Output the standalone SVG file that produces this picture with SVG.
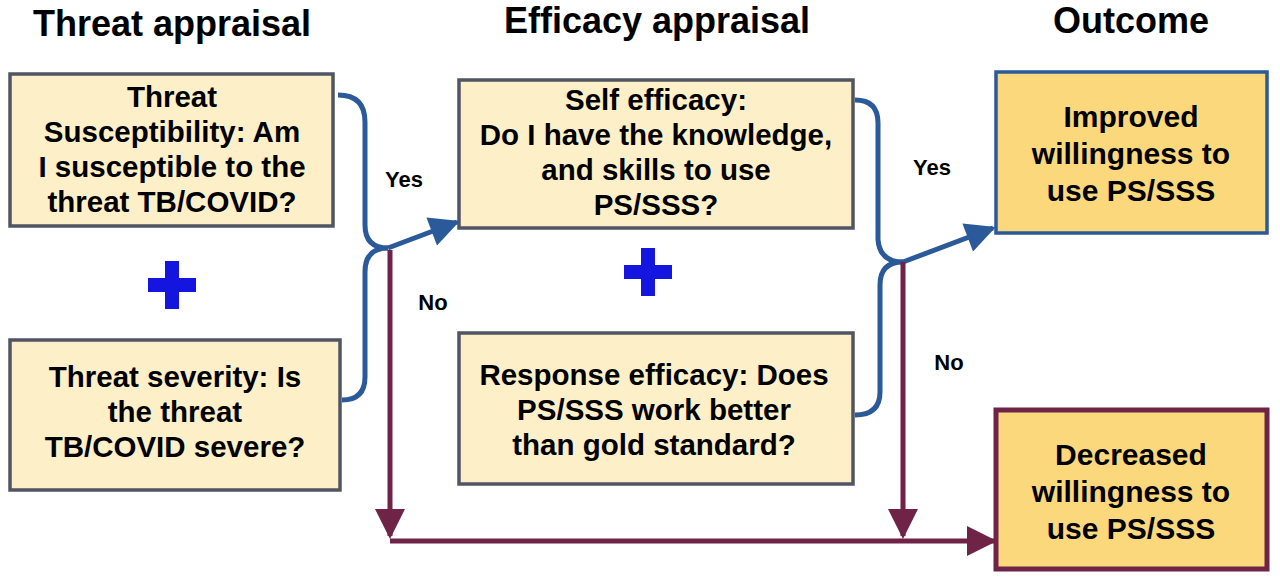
<svg xmlns="http://www.w3.org/2000/svg" width="1280" height="579" viewBox="0 0 1280 579">
<style>
text{font-family:"Liberation Sans",Arial,sans-serif;font-weight:bold;fill:#000;text-anchor:middle}
.h{font-size:36px}.t{font-size:29.5px}.o{font-size:30px}.l{font-size:22px}
.b{fill:#fdf0c8;stroke:#4f5563;stroke-width:3.5}
.bl{fill:none;stroke:#2b5a9a;stroke-width:5}
.mr{fill:none;stroke:#6e2347;stroke-width:5}
</style>
<defs>
<marker id="ab" viewBox="0 0 10 10" refX="9" refY="5" markerWidth="6.5" markerHeight="6" orient="auto" markerUnits="strokeWidth"><path d="M0,0L10,5L0,10z" fill="#2b5a9a"/></marker>
<marker id="am" viewBox="0 0 10 10" refX="9" refY="5" markerWidth="6.5" markerHeight="6" orient="auto" markerUnits="strokeWidth"><path d="M0,0L10,5L0,10z" fill="#6e2347"/></marker>
</defs>
<rect width="1280" height="579" fill="#fff"/>
<text class="h" x="172" y="36">Threat appraisal</text>
<text class="h" x="657" y="33">Efficacy appraisal</text>
<text class="h" x="1131" y="33">Outcome</text>
<g id="connectors">
<path class="bl" d="M338,95 Q365,95 365,122 L365,225 Q365,248 388,248"/>
<path class="bl" d="M342,400 Q365,400 365,377 L365,272 Q365,248 388,248"/>
<path class="bl" d="M388,248 L457,222" marker-end="url(#ab)"/>
<path class="bl" d="M855,100 Q878,100 878,123 L878,240 Q880,262 903,262"/>
<path class="bl" d="M855,415 Q880,415 880,392 L880,285 Q880,262 903,262"/>
<path class="bl" d="M903,262 L993,228" marker-end="url(#ab)"/>
<path class="mr" d="M390,250 L390,536" marker-end="url(#am)"/>
<path class="mr" d="M390,541 L994,541" marker-end="url(#am)"/>
<path class="mr" d="M903,262 L903,536" marker-end="url(#am)"/>
</g>
<text class="l" x="404" y="187">Yes</text>
<text class="l" x="433" y="310">No</text>
<text class="l" x="932" y="175">Yes</text>
<text class="l" x="949" y="370">No</text>
<g id="n1"><rect class="b" x="10" y="74" width="323" height="152"/>
<text class="t" x="172" y="107">Threat</text><text class="t" x="172" y="142">Susceptibility: Am</text><text class="t" x="172" y="177">I susceptible to the</text><text class="t" x="172" y="212">threat TB/COVID?</text></g>
<g id="plus1" fill="#1515e0"><rect x="148" y="278" width="48" height="14"/><rect x="165" y="261" width="14" height="48"/></g>
<g id="n2"><rect class="b" x="10" y="340" width="330" height="150"/>
<text class="t" x="175" y="387">Threat severity: Is</text><text class="t" x="175" y="422">the threat</text><text class="t" x="175" y="457">TB/COVID severe?</text></g>
<g id="n3"><rect class="b" x="459" y="80" width="394" height="148"/>
<text class="t" x="656" y="110">Self efficacy:</text><text class="t" x="656" y="145">Do I have the knowledge,</text><text class="t" x="656" y="180">and skills to use</text><text class="t" x="656" y="215">PS/SSS?</text></g>
<g id="plus2" fill="#1515e0"><rect x="624" y="265" width="48" height="14"/><rect x="641" y="248" width="14" height="48"/></g>
<g id="n4"><rect class="b" x="459" y="333" width="394" height="151"/>
<text class="t" x="654" y="385">Response efficacy: Does</text><text class="t" x="654" y="420">PS/SSS work better</text><text class="t" x="654" y="455">than gold standard?</text></g>
<g id="n5"><rect x="996" y="72" width="271" height="161" fill="#fbd87c" stroke="#2b5a9a" stroke-width="3.5"/>
<text class="o" x="1131" y="127">Improved</text><text class="o" x="1131" y="164">willingness to</text><text class="o" x="1131" y="201">use PS/SSS</text></g>
<g id="n6"><rect x="996" y="410" width="271" height="159" fill="#fbd87c" stroke="#6e2347" stroke-width="5"/>
<text class="o" x="1131" y="465">Decreased</text><text class="o" x="1131" y="502">willingness to</text><text class="o" x="1131" y="539">use PS/SSS</text></g>
</svg>
